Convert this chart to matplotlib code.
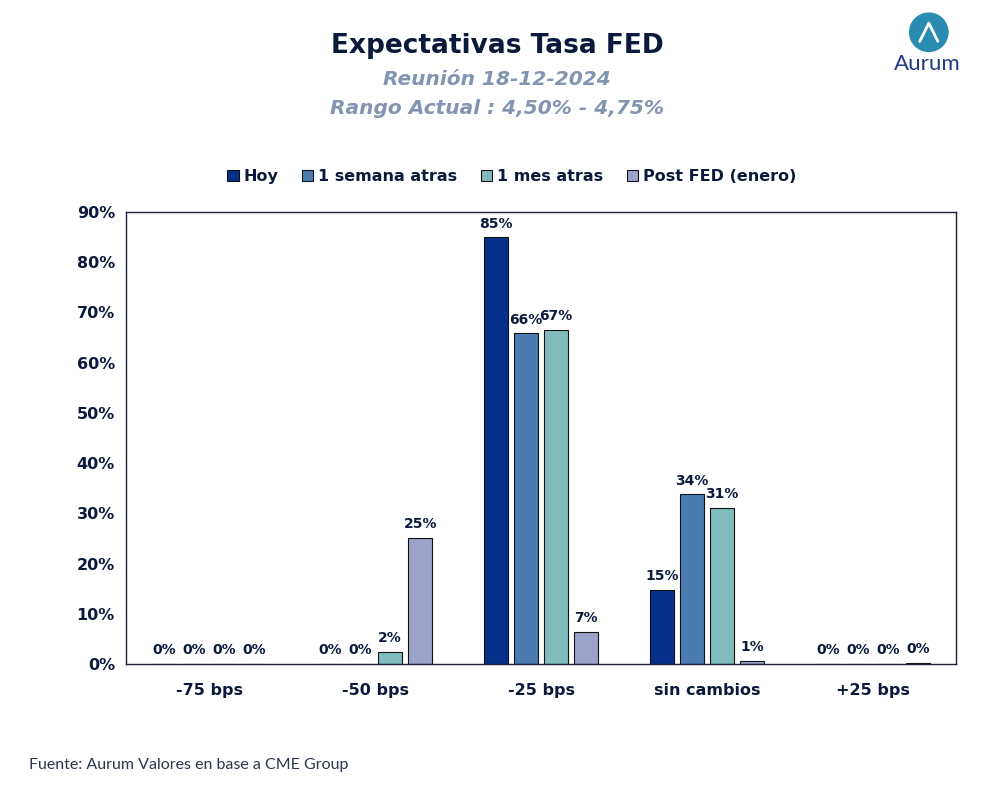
import numpy as np
import matplotlib
matplotlib.use("Agg")
import matplotlib.pyplot as plt
from matplotlib.patches import Circle

plt.rcParams['font.family'] = ['DejaVu Sans']

# datos
categorias = ['-75 bps', '-50 bps', '-25 bps', 'sin cambios', '+25 bps']
series = ['Hoy', '1 semana atras', '1 mes atras', 'Post FED (enero)']
hoy = [0.0, 0.0, 85.0, 14.8, 0.0]
semana = [0.0, 0.0, 65.9, 33.8, 0.0]
mes = [0.0, 2.4, 66.5, 31.1, 0.0]
post_fed = [0.0, 25.1, 6.4, 0.6, 0.2]
etiquetas = [
    ['0%', '0%', '85%', '15%', '0%'],
    ['0%', '0%', '66%', '34%', '0%'],
    ['0%', '2%', '67%', '31%', '0%'],
    ['0%', '25%', '7%', '1%', '0%'],
]
colores = ['#07308a', '#4a7bb1', '#80bcbb', '#9ca3ca']
navy = '#0b1a3c'

fig = plt.figure(figsize=(9.86, 8.07), dpi=100)
ax = fig.add_axes([0.1278, 0.1772, 0.8418, 0.5601])

x = np.arange(len(categorias))
ancho = 0.145
paso = 0.182
valores = [hoy, semana, mes, post_fed]
for i, (vals, col) in enumerate(zip(valores, colores)):
    pos = x + (i - 1.5) * paso
    ax.bar(pos, vals, ancho, color=col, edgecolor='#111111', linewidth=0.8, label=series[i])
    for p, v, t in zip(pos, vals, etiquetas[i]):
        ax.text(p, v + 1.3, t, ha='center', va='bottom', fontsize=10,
                fontweight='bold', color=navy)

ax.set_xlim(-0.5, 4.5)
ax.set_ylim(0, 90)
ax.set_yticks(np.arange(0, 91, 10))
ax.set_yticklabels([f'{v}%' for v in range(0, 91, 10)])
ax.set_xticks(x)
ax.set_xticklabels(categorias)
ax.tick_params(axis='both', length=0, labelsize=11.5, colors=navy)
ax.tick_params(axis='x', pad=14)
ax.tick_params(axis='y', pad=8)
for lbl in ax.get_xticklabels() + ax.get_yticklabels():
    lbl.set_fontweight('bold')
for s in ax.spines.values():
    s.set_color('#1a2233')
    s.set_linewidth(1.0)

leg = ax.legend(loc='lower center', bbox_to_anchor=(0.465, 1.03), ncol=4, frameon=False,
                handlelength=0.7, handleheight=0.7, handletextpad=0.3, columnspacing=1.5,
                prop={'weight': 'bold', 'size': 11.5})
for t in leg.get_texts():
    t.set_color(navy)

fig.text(0.504, 0.943, 'Expectativas Tasa FED', ha='center', va='center', fontsize=19,
         fontweight='bold', color=navy)
fig.text(0.504, 0.902, 'Reunión 18-12-2024', ha='center', va='center', fontsize=14.5,
         fontweight='bold', style='italic', color='#8393b2')
fig.text(0.504, 0.865, 'Rango Actual : 4,50% - 4,75%', ha='center', va='center', fontsize=14.5,
         fontweight='bold', style='italic', color='#8393b2')

fig.text(0.029, 0.052, 'Fuente: Aurum Valores en base a CME Group', ha='left', va='center',
         fontsize=11.5, color='#2a3550', family='Lato')

# logo
logo = fig.add_axes([0.905, 0.935, 0.074, 0.05])
logo.set_xlim(-1, 1)
logo.set_ylim(-1, 1)
logo.set_aspect('equal')
logo.axis('off')
logo.add_patch(Circle((0, 0), 0.95, color='#2a8cb0'))
logo.plot([-0.45, 0.0, 0.45], [-0.45, 0.45, -0.45], color='white', lw=2, solid_capstyle='round')
fig.text(0.940, 0.921, 'Aurum', ha='center', va='center', fontsize=16, color='#243a86',
         family='Lato')

fig.savefig('out.png', dpi=100)
